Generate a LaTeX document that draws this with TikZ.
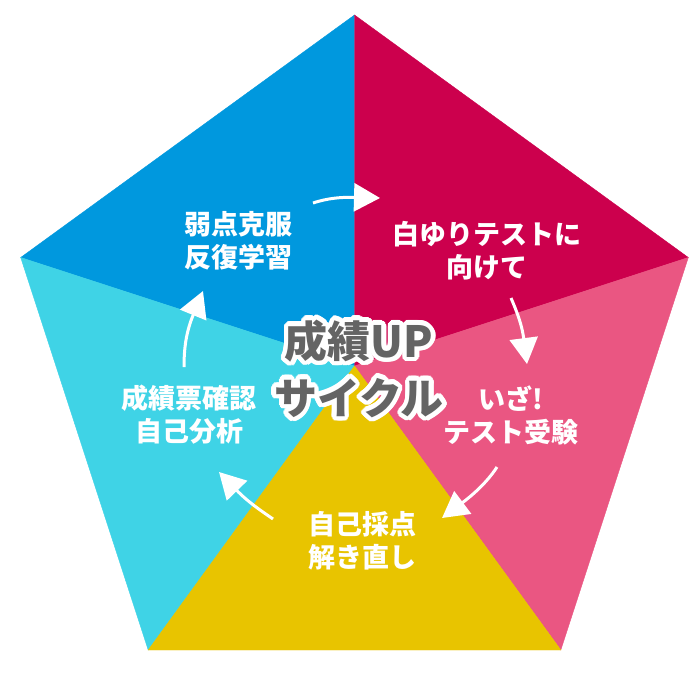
\documentclass[tikz,border=0pt]{standalone}
\usepackage{fontspec}
\setmainfont{Noto Sans CJK JP}
\newfontfamily\titlefont{Noto Sans CJK JP Black}
\usepackage{contour}
\contourlength{4.5pt}
\contournumber{24}
\usetikzlibrary{arrows.meta}

\definecolor{sblue}{HTML}{0098DE}
\definecolor{smagenta}{HTML}{CC004D}
\definecolor{spink}{HTML}{EA5682}
\definecolor{syellow}{HTML}{E8C400}
\definecolor{scyan}{HTML}{3FD3E6}
\definecolor{tgrey}{HTML}{646464}

\tikzstyle{phase} = [text=white, font=\bfseries\fontsize{27}{33}\selectfont, align=center, inner sep=0pt]
\tikzstyle{arr} = [white, line width=3pt, -{Triangle[length=26pt, width=28pt]}]

\begin{document}
\begin{tikzpicture}[x=1pt,y=-1pt]
\useasboundingbox (0,0) rectangle (700,673);
% pentagon corners
\coordinate (O) at (354.5,366);
\coordinate (T) at (354.5,15);
\coordinate (R) at (688.3,257.5);
\coordinate (BR) at (560.8,650);
\coordinate (BL) at (148.2,650);
\coordinate (L) at (20.7,257.5);

\fill[sblue, draw=sblue, line width=0.4pt] (O) -- (L) -- (T) -- cycle;
\fill[smagenta, draw=smagenta, line width=0.4pt] (O) -- (T) -- (R) -- cycle;
\fill[spink, draw=spink, line width=0.4pt] (O) -- (R) -- (BR) -- cycle;
\fill[scyan, draw=scyan, line width=0.4pt] (O) -- (BL) -- (L) -- cycle;
\fill[syellow, draw=syellow, line width=0.4pt] (O) -- (BR) -- (BL) -- cycle;

% stages
\node[phase] (weak) at (238,241) {弱点克服\\反復学習};
\node[phase] (shiro) at (487,251) {白ゆりテストに\\向けて};
\node[phase] (iza) at (511,415) {いざ!\\テスト受験};
\node[phase] (jiko) at (362,541) {自己採点\\解き直し};
\node[phase] (score) at (189,415) {成績票確認\\自己分析};

\node[text=tgrey, font=\titlefont\fontsize{43}{57}\selectfont, align=center, inner sep=0pt]
    (title) at (359,371) {\contour{white}{成績UP}\\\contour{white}{サイクル}};

% arrows
\coordinate (a1) at (313,203);
\coordinate (b1) at (380,198);
\coordinate (a2) at (511,298);
\coordinate (b2) at (527,364);
\coordinate (a3) at (497,467);
\coordinate (b3) at (442,518);
\coordinate (a4) at (273,519);
\coordinate (b4) at (219,472);
\coordinate (a5) at (184,367);
\coordinate (b5) at (203,291);

\draw[arr] (a1) .. controls (328,198) and (342,197) .. (b1);
\draw[arr] (a2) .. controls (517,312) and (522,325) .. (b2);
\draw[arr] (a3) .. controls (486,484) and (470,497) .. (b3);
\draw[arr] (a4) .. controls (260,510) and (248,502) .. (b4);
\draw[arr] (a5) .. controls (184,345) and (187,330) .. (b5);
\end{tikzpicture}
\end{document}
